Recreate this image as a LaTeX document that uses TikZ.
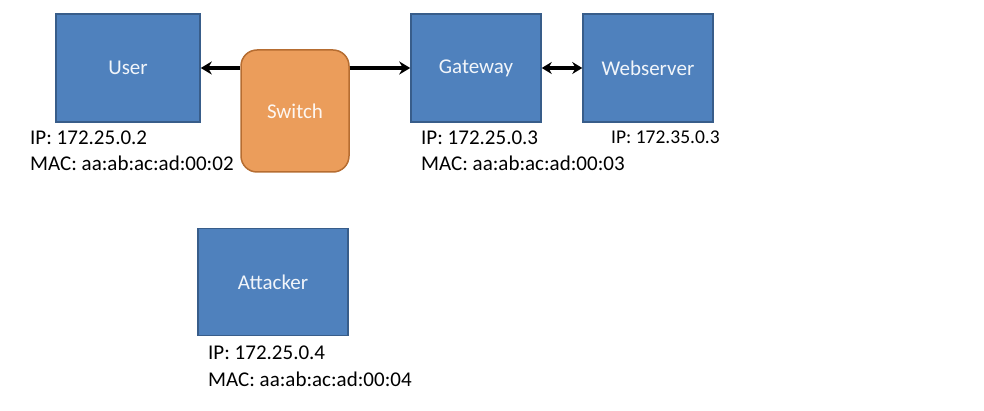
\documentclass[tikz,border=0pt]{standalone}
\usepackage{fontspec}
\setmainfont{Carlito}
\usetikzlibrary{arrows.meta}
\definecolor{boxblue}{HTML}{4F81BD}
\definecolor{boxline}{HTML}{385D8A}
\definecolor{swfill}{HTML}{EB9D5B}
\definecolor{swline}{HTML}{B66D31}
\begin{document}
\begin{tikzpicture}[x=1pt,y=-1pt,
  host/.style={draw=boxline,line width=1.5pt,fill=boxblue,text=white!92!boxblue,font=\fontsize{21}{25}\selectfont},
  switchbox/.style={draw=swline,line width=1.5pt,fill=swfill,text=white!92!swfill,rounded corners=16pt,
    minimum width=108pt,minimum height=122pt,font=\fontsize{21}{25}\selectfont},
  info/.style={anchor=west,inner sep=0pt,font=\fontsize{21}{25}\selectfont},
  link/.style={line width=3.2pt,-{Stealth[length=11pt,width=13pt]}},
  link2/.style={line width=3.2pt,{Stealth[length=10pt,width=12pt]}-{Stealth[length=10pt,width=12pt]}}]
  \useasboundingbox (0,0) rectangle (984,411);

  \node[host,minimum width=144pt,minimum height=108pt] (user) at (128,68) {User};
  \node[switchbox] (switch) at (295,111) {Switch};
  \node[host,minimum width=130pt,minimum height=108pt] (gateway) at (476,68) {Gateway};
  \node[host,minimum width=130pt,minimum height=108pt] (webserver) at (648,68) {Webserver};
  \node[host,minimum width=150pt,minimum height=107pt] (attacker) at (273,282) {Attacker};

  \begin{scope}
    \node[info] (userip) at (30,138) {IP: 172.25.0.2};
    \node[info] (usermac) at (30,163) {MAC: aa:ab:ac:ad:00:02};
    \node[info] (gwip) at (421,138) {IP: 172.25.0.3};
    \node[info] (gwmac) at (421,163) {MAC: aa:ab:ac:ad:00:03};
    \node[info,font=\fontsize{19.5}{23}\selectfont] (webip) at (611,137) {IP: 172.35.0.3};
    \node[info] (attip) at (208,353) {IP: 172.25.0.4};
    \node[info] (attmac) at (208,379) {MAC: aa:ab:ac:ad:00:04};
  \end{scope}

  \draw[link] (switch.west |- user.east) -- (user.east);
  \draw[link] (switch.east |- gateway.west) -- (gateway.west);
  \draw[link2] (gateway.east) -- (webserver.west);
\end{tikzpicture}
\end{document}
